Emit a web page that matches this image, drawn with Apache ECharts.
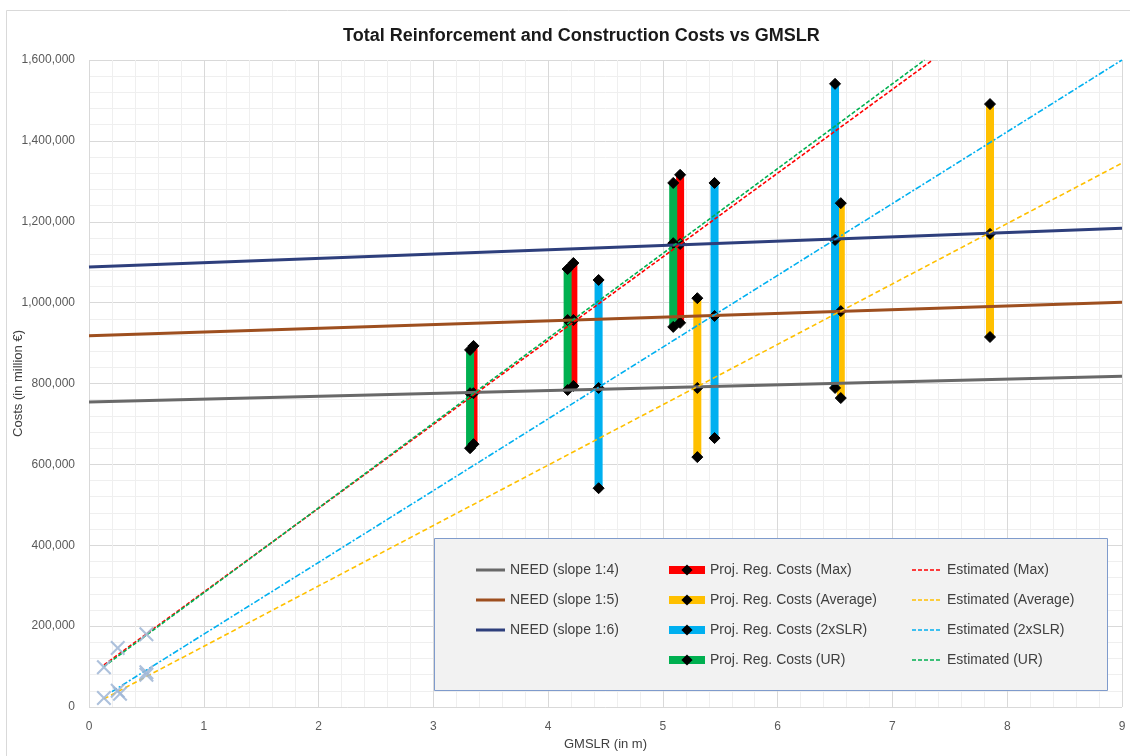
<!DOCTYPE html>
<html>
<head>
<meta charset="utf-8">
<script src="https://cdn.jsdelivr.net/npm/echarts@6/dist/echarts.min.js"></script>
<style>
html,body{margin:0;padding:0;background:#fff;}
#chart{width:1130px;height:756px;}
</style>
</head>
<body>
<div id="chart"></div>
<script>
// ---- data ----
const titleText = 'Total Reinforcement and Construction Costs vs GMSLR';
const xTicks = [0, 1, 2, 3, 4, 5, 6, 7, 8, 9];
const yTicks = [0, 200000, 400000, 600000, 800000, 1000000, 1200000, 1400000, 1600000];

// NEED lines: [x, y] end points
const need14 = [[0, 754000], [9, 818000]];
const need15 = [[0, 918000], [9, 1001000]];
const need16 = [[0, 1088000], [9, 1184000]];

// Estimated trend lines: [x, y] end points
const estMax = [[0.13, 104000], [7.35, 1600000]];
const estAvg = [[0.13, 20000], [9, 1345000]];
const est2x = [[0.2, 38000], [9, 1600000]];
const estUR = [[0.13, 100000], [7.28, 1600000]];

// Projected regional cost ranges: [x, low, mid, high]
const barsMax = [[3.35, 650000, 776000, 893000], [4.22, 794000, 957000, 1098000], [5.15, 950000, 1145000, 1316000]];
const barsAvg = [[5.30, 618000, 789000, 1011000], [6.55, 764000, 979000, 1246000], [7.85, 915000, 1170000, 1491000]];
const bars2x = [[4.44, 541000, 789000, 1056000], [5.45, 665000, 967000, 1296000], [6.50, 789000, 1155000, 1541000]];
const barsUR = [[3.32, 640000, 776000, 883000], [4.17, 784000, 957000, 1083000], [5.09, 940000, 1147000, 1296000]];

// Low-GMSLR points (crosses)
const crosses = [[0.13, 98000], [0.25, 146000], [0.5, 180000], [0.13, 22000], [0.25, 40000], [0.27, 33000], [0.5, 86000], [0.5, 80000]];

// ---- styling ----
const FONT = 'Liberation Sans';
const C = {
  n14: '#696969', n15: '#9e4f1f', n16: '#2e3f7c',
  red: '#ff0000', yellow: '#ffc000', cyan: '#00b0f0', green: '#00b050'
};
const xPath = 'path://M0,1 L1,0 L5,4 L9,0 L10,1 L6,5 L10,9 L9,10 L5,6 L1,10 L0,9 L4,5 Z';
// legend icons (tiny slivers at top/bottom keep the icon box height)
const edge = 'M0,0 L30,0 L30,0.01 L0,0.01 Z M0,14 L30,14 L30,13.99 L0,13.99 Z ';
const solidIcon = 'path://' + edge + 'M0,5.5 L30,5.5 L30,8.5 L0,8.5 Z';
const dashIcon = 'path://' + edge + 'M0,6.2 h4 v1.6 h-4 Z M6,6.2 h4 v1.6 h-4 Z M12,6.2 h4 v1.6 h-4 Z M18,6.2 h4 v1.6 h-4 Z M24,6.2 h4 v1.6 h-4 Z';

function needSeries(name, data, color) {
  return { name, type: 'line', data, symbol: 'none', z: 3,
    lineStyle: { color, width: 3 }, itemStyle: { color }, silent: true };
}
function estSeries(name, data, color, dash) {
  return { name, type: 'line', data, symbol: 'none', z: 4,
    lineStyle: { color, width: 1.6, type: dash }, itemStyle: { color }, silent: true };
}
function barSeries(name, bars, color) {
  return bars.map(b => ({
    name, type: 'line', z: 2,
    data: [[b[0], b[1]], [b[0], b[2]], [b[0], b[3]]],
    symbol: 'diamond', symbolSize: 11, showSymbol: true,
    lineStyle: { color, width: 8 },
    itemStyle: { color: '#000', borderColor: '#000' }
  }));
}

const series = [].concat(
  needSeries('NEED (slope 1:4)', need14, C.n14),
  needSeries('NEED (slope 1:5)', need15, C.n15),
  needSeries('NEED (slope 1:6)', need16, C.n16),
  barSeries('Proj. Reg. Costs (Max)', barsMax, C.red),
  barSeries('Proj. Reg. Costs (Average)', barsAvg, C.yellow),
  barSeries('Proj. Reg. Costs (2xSLR)', bars2x, C.cyan),
  barSeries('Proj. Reg. Costs (UR)', barsUR, C.green),
  estSeries('Estimated (Max)', estMax, C.red, [4, 2]),
  estSeries('Estimated (Average)', estAvg, C.yellow, [5, 3]),
  estSeries('Estimated (2xSLR)', est2x, C.cyan, [6, 2, 2, 2]),
  estSeries('Estimated (UR)', estUR, C.green, [4, 2]),
  [{ name: 'crosses', type: 'scatter', data: crosses, symbol: xPath, symbolSize: 15, z: 5,
     itemStyle: { color: '#9fb6d6', opacity: 0.85 } }]
);

const legendText = { fontFamily: FONT, fontSize: 14, color: '#404040' };
function legend(items, left, width, icon) {
  return { data: items.map(n => icon ? { name: n, icon } : { name: n }),
    left, top: 563, orient: 'vertical', itemWidth: width, itemHeight: 14,
    itemGap: 16, textStyle: legendText, selectedMode: false, padding: 0, z: 20,
    lineStyle: { width: 'inherit' } };
}

const chart = echarts.init(document.getElementById('chart'), null, { renderer: 'canvas' });
chart.setOption({
  animation: false,
  backgroundColor: '#ffffff',
  textStyle: { fontFamily: FONT },
  title: { text: titleText, left: 338, top: 22,
    textStyle: { fontFamily: FONT, fontSize: 18, fontWeight: 'bold', color: '#1a1a1a' } },
  graphic: [
    { type: 'rect', shape: { x: 6.5, y: 10.5, width: 1200, height: 800 }, silent: true, z: -10,
      style: { fill: 'none', stroke: '#d9d9d9', lineWidth: 1 } },
    { type: 'rect', shape: { x: 434.5, y: 538.5, width: 673, height: 152 }, z: 10, silent: true,
      style: { fill: '#f2f2f2', stroke: '#7f9bcc', lineWidth: 1 } }
  ],
  grid: { left: 89, right: 8, top: 60, bottom: 49, containLabel: false, outerBoundsMode: 'none' },
  legend: [
    legend(['NEED (slope 1:4)', 'NEED (slope 1:5)', 'NEED (slope 1:6)'], 476, 29, solidIcon),
    legend(['Proj. Reg. Costs (Max)', 'Proj. Reg. Costs (Average)', 'Proj. Reg. Costs (2xSLR)', 'Proj. Reg. Costs (UR)'], 665, 36, null),
    legend(['Estimated (Max)', 'Estimated (Average)', 'Estimated (2xSLR)', 'Estimated (UR)'], 912, 30, dashIcon)
  ],
  xAxis: {
    type: 'value', min: xTicks[0], max: xTicks[xTicks.length - 1], interval: 1,
    name: 'GMSLR (in m)', nameLocation: 'middle', nameGap: 31, nameMoveOverlap: false,
    nameTextStyle: { fontFamily: FONT, fontSize: 13, color: '#404040' },
    axisLine: { show: false }, axisTick: { show: false },
    axisLabel: { fontFamily: FONT, fontSize: 12, color: '#595959', margin: 14 },
    splitLine: { show: true, lineStyle: { color: '#d9d9d9', width: 1 } },
    minorTick: { show: false, splitNumber: 5 },
    minorSplitLine: { show: true, lineStyle: { color: '#efefef', width: 1 } }
  },
  yAxis: {
    type: 'value', min: yTicks[0], max: yTicks[yTicks.length - 1], interval: 200000,
    name: 'Costs (in million €)', nameLocation: 'middle', nameGap: 64, nameRotate: 90, nameMoveOverlap: false,
    nameTextStyle: { fontFamily: FONT, fontSize: 13, color: '#404040' },
    axisLine: { show: false }, axisTick: { show: false },
    axisLabel: { fontFamily: FONT, fontSize: 12, color: '#595959', margin: 14,
      formatter: v => v.toLocaleString('en-US') },
    splitLine: { show: true, lineStyle: { color: '#d9d9d9', width: 1 } },
    minorTick: { show: false, splitNumber: 5 },
    minorSplitLine: { show: true, lineStyle: { color: '#efefef', width: 1 } }
  },
  series
});
</script>
</body>
</html>
